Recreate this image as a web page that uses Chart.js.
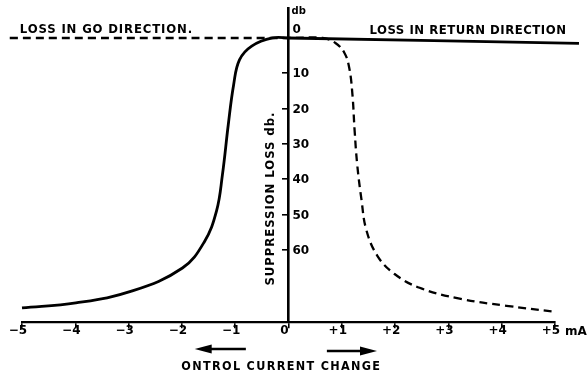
<!DOCTYPE html>
<html><head><meta charset="utf-8">
<script src="https://cdn.jsdelivr.net/npm/chart.js@4"></script>
<style>html,body{margin:0;padding:0;background:#fff}#wrap{width:587px;height:377px}</style>
</head><body><div id="wrap"><canvas id="c" width="587" height="377"></canvas></div>
<script>
// ---- data (control current in mA, suppression loss in db) ----
const xTickValues = [-5,-4,-3,-2,-1,0,1,2,3,4,5];
const yTickValues = [0,10,20,30,40,50,60];
const returnCurrent = [-5.0,-3.99,-2.93,-1.99,-1.58,-1.35,-1.24,-1.13,-1.03,-0.92,-0.69,-0.30,0,5.45];
const returnLoss    = [76.5,75.1,71.7,65.2,57.8,49.0,38.8,24.6,13.3,6.2,2.3,0,0,1.5];
const goCurrent = [-5.23,0,0.64,0.88,1.05,1.14,1.20,1.24,1.29,1.37,1.46,1.67,1.99,2.46,3.21,4.09,4.99];
const goLoss    = [0,0,0,1.4,4.25,8.5,16.1,26.1,36.0,45.9,54.4,61.8,66.9,70.8,73.9,75.9,77.6];

const FONT = '"DejaVu Sans Condensed", "DejaVu Sans", sans-serif';
const TICKFONT = '"DejaVu Sans", sans-serif';

function fitText(ctx, text, x, y, width, align) {
  ctx.letterSpacing = '0px';
  const w = ctx.measureText(text).width;
  const ls = (width - w) / Math.max(1, text.length);
  ctx.letterSpacing = ls.toFixed(2) + 'px';
  ctx.textAlign = 'left';
  let sx = x;
  if (align === 'center') sx = x - width / 2;
  ctx.fillText(text, sx, y);
  ctx.letterSpacing = '0px';
}
function arrow(ctx, x1, y, x2) {
  const dir = Math.sign(x2 - x1);
  ctx.beginPath(); ctx.moveTo(x1, y); ctx.lineTo(x2 - dir*12, y); ctx.lineWidth = 2.6; ctx.stroke();
  ctx.beginPath(); ctx.moveTo(x2, y); ctx.lineTo(x2 - dir*17, y - 4.5); ctx.lineTo(x2 - dir*17, y + 4.5); ctx.closePath(); ctx.fill();
}

const annotPlugin = {
  id: 'annot',
  afterDraw(chart) {
    const ctx = chart.ctx, xs = chart.scales.x, ys = chart.scales.y;
    const X = v => xs.getPixelForValue(v), Y = v => ys.getPixelForValue(v);
    const ax = X(0), axisY = ys.bottom;
    ctx.save();
    ctx.fillStyle = '#000'; ctx.strokeStyle = '#000';
    // y tick labels, right of the centred axis
    ctx.font = 'bold 12px ' + TICKFONT; ctx.textBaseline = 'middle'; ctx.textAlign = 'left';
    yTickValues.forEach(v => {
      if (v === 0) ctx.fillText('0', ax + 4, Y(0) - 8);
      else ctx.fillText(String(v), ax + 4, Y(v) + 1);
    });
    ctx.font = 'bold 10px ' + TICKFONT;
    ctx.fillText('db', ax + 3, ys.top + 3);
    // unit after +5
    ctx.font = 'bold 12px ' + TICKFONT;
    ctx.fillText('mA', X(5) + 10, axisY + 10);
    // curve labels
    ctx.font = 'bold 13px ' + FONT;
    fitText(ctx, 'LOSS IN GO DIRECTION.', X(-5.04), Y(-2.5), 173, 'left');
    fitText(ctx, 'LOSS IN RETURN DIRECTION', X(1.52), Y(-2.2), 197, 'left');
    // y title
    ctx.save();
    ctx.translate(X(-0.33), Y(45.5)); ctx.rotate(-Math.PI/2);
    fitText(ctx, 'SUPPRESSION LOSS db.', 0, 0, 174, 'center');
    ctx.restore();
    // bottom caption and arrows
    ctx.font = 'bold 12.5px ' + FONT;
    fitText(ctx, 'ONTROL CURRENT CHANGE', X(-2.01), axisY + 45, 200, 'left');
    arrow(ctx, X(-0.8), axisY + 27, X(-1.76));
    arrow(ctx, X(0.72), axisY + 29, X(1.66));
    ctx.restore();
  }
};

const pts = (xa, ya) => xa.map((x, i) => ({x, y: ya[i]}));
new Chart(document.getElementById('c').getContext('2d'), {
  type: 'line',
  data: { datasets: [
    { label: 'Loss in return direction', data: pts(returnCurrent, returnLoss),
      borderColor: '#000', borderWidth: 2.8, pointRadius: 0, tension: 0.4, clip: false, fill: false },
    { label: 'Loss in go direction', data: pts(goCurrent, goLoss),
      borderColor: '#000', borderWidth: 2.3, borderDash: [8, 5], pointRadius: 0, tension: 0.4, clip: false, fill: false }
  ]},
  options: {
    responsive: false, animation: false, devicePixelRatio: 1,
    layout: { padding: { left: 22, right: 32, top: 8, bottom: 55 } },
    plugins: { legend: { display: false }, tooltip: { enabled: false } },
    scales: {
      x: { type: 'linear', min: -5, max: 5, position: { y: 80.5 },
        afterBuildTicks: s => { s.ticks = xTickValues.map(v => ({ value: v })); },
        ticks: { callback: v => v > 0 ? '+' + v : (v < 0 ? '\u2212' + Math.abs(v) : '0'),
          font: { family: TICKFONT, size: 12, weight: 'bold' }, color: '#000', padding: -3, labelOffset: -4, maxRotation: 0, autoSkip: false },
        grid: { drawOnChartArea: false, drawTicks: true, tickLength: 5, color: '#000', lineWidth: 1.6 },
        border: { color: '#000', width: 2.2 } },
      y: { type: 'linear', reverse: true, min: -8.5, max: 80.5, position: { x: 0 },
        afterBuildTicks: s => { s.ticks = yTickValues.map(v => ({ value: v })); },
        ticks: { display: false },
        grid: { drawOnChartArea: false, drawTicks: true, tickLength: 5, color: '#000', lineWidth: 1.6 },
        border: { color: '#000', width: 2.6 } }
    }
  },
  plugins: [annotPlugin]
});
</script></body></html>
